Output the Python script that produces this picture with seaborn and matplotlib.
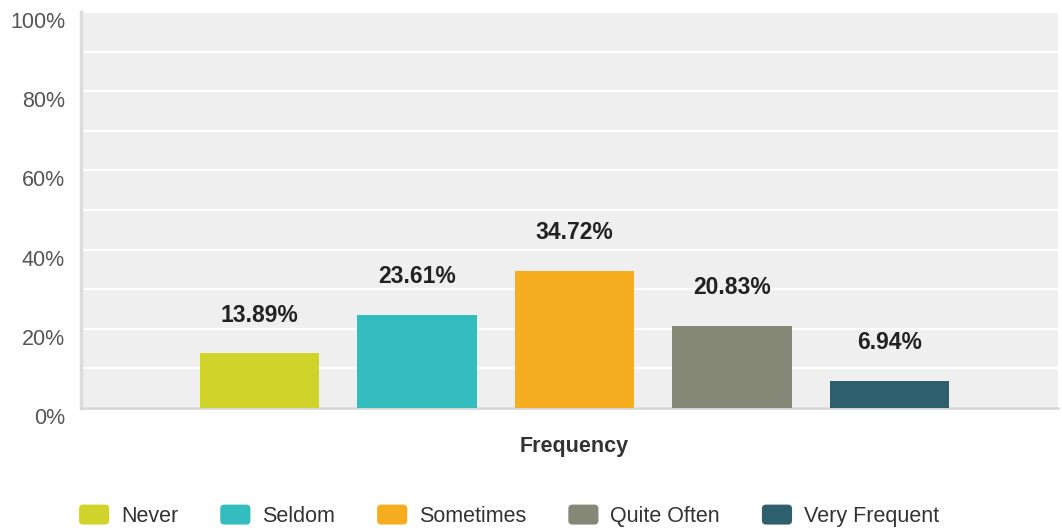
import matplotlib
matplotlib.use("Agg")
import matplotlib.pyplot as plt
import matplotlib.transforms as mtransforms
from matplotlib.legend_handler import HandlerPatch
from matplotlib.patches import FancyBboxPatch, Rectangle
import seaborn as sns
import pandas as pd

# Survey responses
answers = ["Never", "Seldom", "Sometimes", "Quite Often", "Very Frequent"]
percents = [13.89, 23.61, 34.72, 20.83, 6.94]
group = "Frequency"
colors = ["#d0d42a", "#33bdbe", "#f6ae20", "#868877", "#2e5f6c"]
ytick_values = list(range(0, 101, 10))

df = pd.DataFrame({"group": [group] * len(answers), "answer": answers, "pct": percents})

sns.set_theme(style="white")
plt.rcParams["font.family"] = ["Liberation Sans", "DejaVu Sans"]

fig = plt.figure(figsize=(10.62, 5.30), dpi=100)
ax = fig.add_axes([81 / 1062, 1 - 408 / 530, 977 / 1062, 396 / 530])
ax.set_facecolor("#efefef")

sns.barplot(data=df, x="group", y="pct", hue="answer", hue_order=answers,
            palette=colors, width=0.8, gap=0.244, saturation=1,
            linewidth=0, legend=True, ax=ax, zorder=3)

ax.set_xlim(-0.5013, 0.4912)
ax.set_ylim(0, 100)

# Grid every 10%, labels every 20%
ax.set_yticks(ytick_values)
ax.set_yticklabels([f"{v}%" if v % 20 == 0 else "" for v in ytick_values])
ax.yaxis.grid(True, color="white", linewidth=1.6, zorder=0)
ax.set_axisbelow(True)
ax.tick_params(axis="y", length=0, pad=11.5, labelsize=15.5, labelcolor="#555555")
offset = mtransforms.ScaledTranslation(0, -8 / 100, fig.dpi_scale_trans)
for lbl in ax.get_yticklabels():
    lbl.set_transform(lbl.get_transform() + offset)

ax.tick_params(axis="x", length=0, pad=20.5, labelsize=15.5, labelcolor="#333333")
for lbl in ax.get_xticklabels():
    lbl.set_fontweight("bold")
ax.set_xlabel("")
ax.set_ylabel("")

for side in ["top", "right"]:
    ax.spines[side].set_visible(False)
ax.spines["left"].set_color("#dcdcdc")
ax.spines["left"].set_linewidth(2.5)
ax.spines["bottom"].set_color("#d4d4d4")
ax.spines["bottom"].set_linewidth(1.8)

for cont in ax.containers:
    ax.bar_label(cont, fmt="%.2f%%", padding=19, fontsize=16.5,
                 fontweight="bold", color="#222222")


class RoundedSwatch(HandlerPatch):
    def create_artists(self, legend, orig_handle, xdescent, ydescent,
                       width, height, fontsize, trans):
        p = FancyBboxPatch((-xdescent, -ydescent), width, height,
                           boxstyle="round,pad=0,rounding_size=3",
                           facecolor=orig_handle.get_facecolor(),
                           edgecolor="none", transform=trans)
        return [p]


leg = ax.get_legend()
handles = leg.legend_handles
leg.remove()
fig.legend(handles, answers, loc="lower left",
           bbox_to_anchor=(64 / 1062, -12 / 530), ncol=5, frameon=False,
           fontsize=15.5, handlelength=1.4, handleheight=1.05,
           handletextpad=0.55, columnspacing=1.95, borderpad=0.2,
           labelcolor="#333333",
           handler_map={Rectangle: RoundedSwatch()})

fig.savefig("out.png", dpi=100)
